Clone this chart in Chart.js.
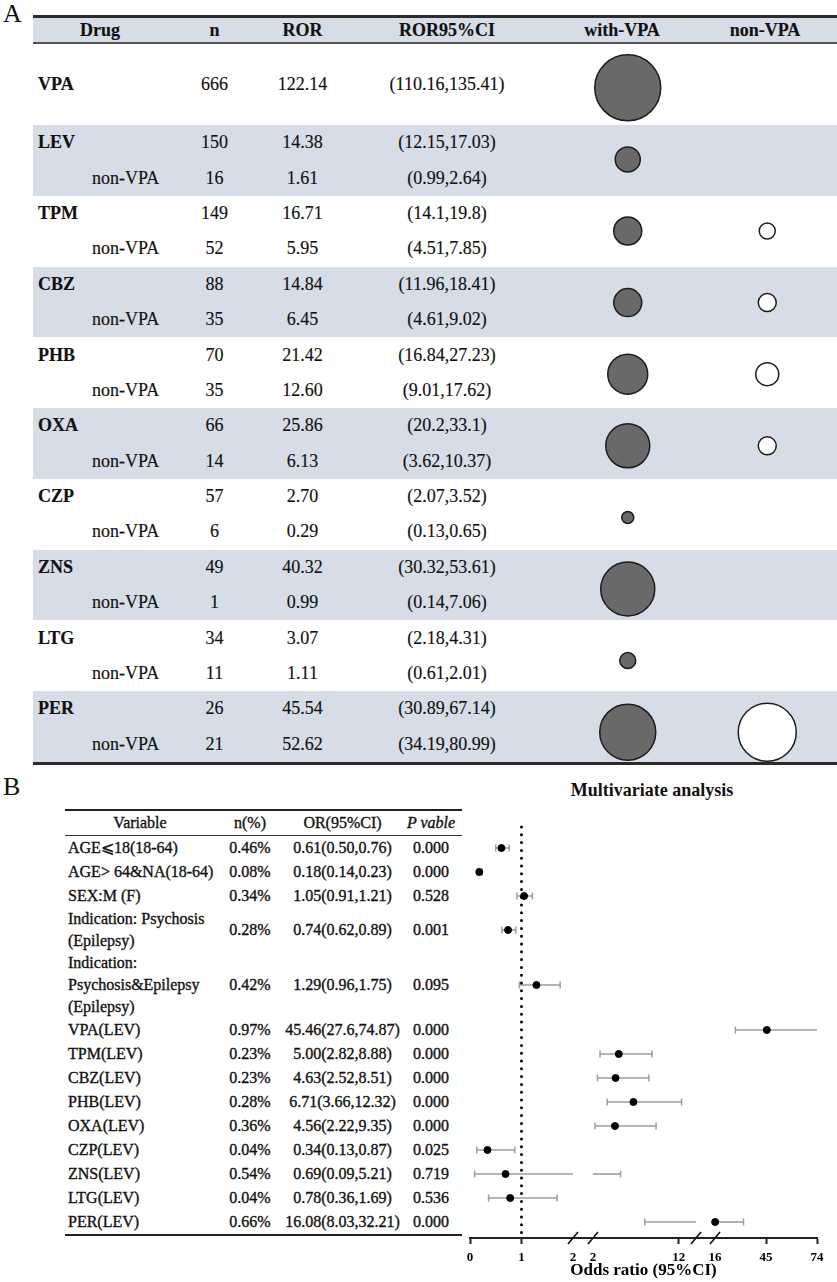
<!DOCTYPE html>
<html>
<head>
<meta charset="utf-8">
<title>ROR of antiseizure drugs and multivariate analysis</title>
<script src="https://cdn.jsdelivr.net/npm/chart.js@4.4.1/dist/chart.umd.min.js"></script>
<style>
  body { margin: 0; background: #fff; }
  #page { position: relative; width: 837px; height: 1282px; overflow: hidden;
          font-family: "Liberation Serif", "Times New Roman", serif; color: #111; }
  .panel { position: absolute; left: 3px; font-size: 26px; line-height: 26px; }
  #tabA { position: absolute; left: 33px; top: 15px; width: 804px; }
  .rowA { display: grid; grid-template-columns: 134px 95px 81px 208px 142px 144px;
          align-items: center; font-size: 18px; -webkit-text-stroke: 0.15px #111; }
  .rowA > div { text-align: center; white-space: nowrap; }
  .rowA > .drug { text-align: left; padding-left: 5px; font-weight: bold; }
  .rowA > .sub { text-align: left; padding-left: 59px; }
  .head { height: 24px; background: #d6dde6; font-weight: bold; }
  .shade { background: #d6dde6; }
  .thick { border-top: 3px solid #2b2b2b; }
  .mid { border-top: 2px solid #555; }
  #bubbleBox { position: absolute; left: 558px; top: 52px; width: 279px; height: 716px; }
  #tabB { position: absolute; left: 65px; top: 809px; width: 397px; font-size: 16px;
          -webkit-text-stroke: 0.35px #111; }
  .rowB { display: grid; grid-template-columns: 150px 70px 115px 62px; align-items: center; }
  .rowB > div { text-align: center; white-space: nowrap; }
  .rowB > .var { text-align: left; padding-left: 3px; line-height: 22px; }
  .ruleB2 { border-top: 2px solid #222; }
  .ruleB1 { border-top: 1px solid #333; }
  #forestTitle { position: absolute; left: 552px; width: 200px; top: 780px; text-align: center;
                 font-size: 18px; font-weight: bold; }
  #forestBox { position: absolute; left: 460px; top: 800px; width: 377px; height: 482px; }
</style>
</head>
<body>
<div id="page">
  <div class="panel" style="top:1px">A</div>
  <div id="tabA"></div>
  <div id="bubbleBox"><canvas id="bubbleChart"></canvas></div>

  <div class="panel" style="top:774px">B</div>
  <div id="tabB"></div>
  <div id="forestTitle">Multivariate analysis</div>
  <div id="forestBox"><canvas id="forestChart"></canvas></div>
</div>
<script>
// ---------- panel A data ----------
const colHeadA = ['Drug', 'n', 'ROR', 'ROR95%CI', 'with-VPA', 'non-VPA'];
const drugs = ['VPA', 'LEV', 'TPM', 'CBZ', 'PHB', 'OXA', 'CZP', 'ZNS', 'LTG', 'PER'];
const nWith = [666, 150, 149, 88, 70, 66, 57, 49, 34, 26];
const rorWith = [122.14, 14.38, 16.71, 14.84, 21.42, 25.86, 2.70, 40.32, 3.07, 45.54];
const ciWithLo = [110.16, 12.15, 14.1, 11.96, 16.84, 20.2, 2.07, 30.32, 2.18, 30.89];
const ciWithHi = [135.41, 17.03, 19.8, 18.41, 27.23, 33.1, 3.52, 53.61, 4.31, 67.14];
const nNon = [null, 16, 52, 35, 35, 14, 6, 1, 11, 21];
const rorNon = [null, 1.61, 5.95, 6.45, 12.60, 6.13, 0.29, 0.99, 1.11, 52.62];
const ciNonLo = [null, 0.99, 4.51, 4.61, 9.01, 3.62, 0.13, 0.14, 0.61, 34.19];
const ciNonHi = [null, 2.64, 7.85, 9.02, 17.62, 10.37, 0.65, 7.06, 2.01, 80.99];
// bubble sizes (0 = no bubble)
const withBubble = [33, 12.5, 14, 14, 20, 22, 6, 27, 8, 28];
const nonBubble = [0, 0, 8, 9, 11.5, 9, 0, 0, 0, 29];

// ---------- panel B data ----------
const colHeadB = ['Variable', 'n(%)', 'OR(95%CI)', '<i>P vable</i>'];
const variables = ['AGE⩽18(18-64)', 'AGE&gt; 64&amp;NA(18-64)', 'SEX:M (F)',
  'Indication: Psychosis|(Epilepsy)', 'Indication:|Psychosis&amp;Epilepsy|(Epilepsy)',
  'VPA(LEV)', 'TPM(LEV)', 'CBZ(LEV)', 'PHB(LEV)', 'OXA(LEV)', 'CZP(LEV)', 'ZNS(LEV)', 'LTG(LEV)', 'PER(LEV)'];
const nPct = [0.46, 0.08, 0.34, 0.28, 0.42, 0.97, 0.23, 0.23, 0.28, 0.36, 0.04, 0.54, 0.04, 0.66];
const orEst = ['0.61', '0.18', '1.05', '0.74', '1.29', '45.46', '5.00', '4.63', '6.71', '4.56', '0.34', '0.69', '0.78', '16.08'];
const orLow = ['0.50', '0.14', '0.91', '0.62', '0.96', '27.6', '2.82', '2.52', '3.66', '2.22', '0.13', '0.09', '0.36', '8.03'];
const orHigh = ['0.76', '0.23', '1.21', '0.89', '1.75', '74.87', '8.88', '8.51', '12.32', '9.35', '0.87', '5.21', '1.69', '32.21'];
const pValue = ['0.000', '0.000', '0.528', '0.001', '0.095', '0.000', '0.000', '0.000', '0.000', '0.000', '0.025', '0.719', '0.536', '0.000'];

// broken odds-ratio axis: three pieces
const axisParts = [
  { lo: 0, hi: 2, from: 0, to: 103 },
  { lo: 2, hi: 14, from: 123, to: 226 },
  { lo: 16, hi: 74, from: 245, to: 347 }
];
const tickVals = [0, 1, 2, 2, 12, 16, 45, 74];
const tickPart = [0, 0, 0, 1, 1, 2, 2, 2];
const tickMark = [true, true, false, false, true, false, true, true];

function partOf(v) { return v <= 2 ? 0 : (v <= 14 ? 1 : 2); }
function toAxis(v, k) {
  const s = axisParts[k === undefined ? partOf(v) : k];
  return s.from + (v - s.lo) * (s.to - s.from) / (s.hi - s.lo);
}
// split a CI into the axis pieces it crosses
function ciPieces(lo, hi) {
  const out = [];
  axisParts.forEach((s, k) => {
    const a = Math.max(lo, k === 0 ? -Infinity : s.lo);
    const b = Math.min(hi, k === axisParts.length - 1 ? Infinity : s.hi);
    if (a < b) out.push({ a: a, b: b, k: k, capA: a === lo, capB: b === hi });
  });
  return out;
}

// ---------- panel A table ----------
let html = '<div class="thick"></div>';
html += '<div class="rowA head">' + colHeadA.map(t => '<div>' + t + '</div>').join('') + '</div>';
html += '<div class="mid"></div>';
drugs.forEach((d, i) => {
  const withRow = '<div class="drug">' + d + '</div><div>' + nWith[i] + '</div><div>' + rorWith[i].toFixed(2) +
    '</div><div>(' + ciWithLo[i] + ',' + ciWithHi[i] + ')</div><div></div><div></div>';
  if (nNon[i] === null) {
    html += '<div class="rowA" style="height:81px">' + withRow + '</div>';
  } else {
    const nonRow = '<div class="sub">non-VPA</div><div>' + nNon[i] + '</div><div>' + rorNon[i].toFixed(2) +
      '</div><div>(' + ciNonLo[i] + ',' + ciNonHi[i] + ')</div><div></div><div></div>';
    html += '<div class="' + (i % 2 ? 'shade' : '') + '">' +
      '<div class="rowA" style="height:35.4px">' + withRow + '</div>' +
      '<div class="rowA" style="height:35.4px">' + nonRow + '</div></div>';
  }
});
html += '<div class="thick"></div>';
document.getElementById('tabA').innerHTML = html;

new Chart(document.getElementById('bubbleChart'), {
  type: 'bubble',
  data: {
    datasets: [{
      label: 'with-VPA',
      data: drugs.map((d, i) => ({ x: 0, y: i, r: withBubble[i] })),
      backgroundColor: '#696969',
      borderColor: '#1c1c1c',
      borderWidth: 1.5,
      clip: false
    }, {
      label: 'non-VPA',
      data: drugs.map((d, i) => ({ x: 1, y: i, r: nonBubble[i] })).filter(p => p.r > 0),
      backgroundColor: '#ffffff',
      borderColor: '#1c1c1c',
      borderWidth: 1.5,
      clip: false
    }]
  },
  options: {
    responsive: true,
    maintainAspectRatio: false,
    animation: false,
    layout: { autoPadding: false, padding: 0 },
    plugins: { legend: { display: false }, tooltip: { enabled: false } },
    scales: {
      x: { type: 'linear', min: -0.5, max: 1.5, display: false },
      y: { type: 'linear', min: -0.5, max: 9.5, reverse: true, display: false }
    }
  }
});

// ---------- panel B table ----------
const rowLines = variables.map(v => v.split('|').length);
const rowH = rowLines.map(n => n === 1 ? 24 : n * 22);
const rowMid = [];
let acc = 0;
rowH.forEach(h => { rowMid.push(acc + h / 2); acc += h; });

let hb = '<div class="ruleB2"></div>';
hb += '<div class="rowB" style="height:24px">' + colHeadB.map(t => '<div>' + t + '</div>').join('') + '</div>';
hb += '<div class="ruleB1"></div>';
variables.forEach((v, i) => {
  hb += '<div class="rowB" style="height:' + rowH[i] + 'px"><div class="var">' + v.split('|').join('<br>') +
    '</div><div>' + nPct[i].toFixed(2) + '%</div><div>' + orEst[i] + '(' + orLow[i] + ',' + orHigh[i] +
    ')</div><div>' + pValue[i] + '</div></div>';
});
hb += '<div class="ruleB2"></div>';
document.getElementById('tabB').innerHTML = hb;

// y units = px of the table body; canvas starts 36px above the body, axis sits 402px below it
const yMin = -36, yMax = 402, refTop = -9;

const forestSets = [];
forestSets.push({
  label: 'OR',
  data: orEst.map((v, i) => ({ x: toAxis(+v), y: rowMid[i] })),
  pointRadius: 3.5,
  pointBackgroundColor: '#000',
  pointBorderColor: '#000',
  showLine: false
});
forestSets.push({
  label: 'OR = 1',
  data: [{ x: toAxis(1), y: refTop }, { x: toAxis(1), y: yMax }],
  showLine: true,
  borderColor: '#000',
  borderWidth: 3,
  borderDash: [0, 7.8],
  borderCapStyle: 'round',
  pointRadius: 0
});
orLow.forEach((lo, i) => {
  ciPieces(+lo, +orHigh[i]).forEach(p => {
    forestSets.push({
      label: 'CI',
      data: [{ x: toAxis(p.a, p.k), y: rowMid[i] }, { x: toAxis(p.b, p.k), y: rowMid[i] }],
      showLine: true,
      borderColor: '#9d9d9d',
      borderWidth: 1.6,
      pointStyle: 'line',
      rotation: 90,
      pointRadius: [p.capA ? 3.5 : 0, p.capB ? 3.5 : 0],
      pointBorderColor: '#9d9d9d',
      pointBorderWidth: 1.5
    });
  });
});

const breakMarks = {
  id: 'breakMarks',
  afterDraw(chart) {
    const ctx = chart.ctx;
    const xs = chart.scales.x;
    const y = chart.chartArea.bottom;
    ctx.save();
    ctx.strokeStyle = '#111';
    ctx.lineWidth = 1.6;
    axisParts.forEach((s, k) => {
      const marks = [];
      if (k > 0) marks.push(s.from);
      if (k < axisParts.length - 1) marks.push(s.to);
      marks.forEach(d => {
        const x = xs.getPixelForValue(d);
        ctx.beginPath();
        ctx.moveTo(x - 5, y + 6);
        ctx.lineTo(x + 5, y - 6);
        ctx.stroke();
      });
    });
    ctx.restore();
  }
};

new Chart(document.getElementById('forestChart'), {
  type: 'scatter',
  data: { datasets: forestSets },
  options: {
    responsive: true,
    maintainAspectRatio: false,
    animation: false,
    layout: { autoPadding: false, padding: { left: 10, right: 20, top: 0, bottom: 0 } },
    plugins: { legend: { display: false }, tooltip: { enabled: false } },
    scales: {
      x: {
        type: 'linear', min: 0, max: 347,
        afterBuildTicks: s => { s.ticks = tickVals.map((v, i) => ({ value: toAxis(v, tickPart[i]) })); },
        afterFit: s => { s.height = 44; },
        ticks: {
          autoSkip: false, maxRotation: 0, padding: 6, color: '#000',
          font: { family: 'Liberation Serif', size: 13, weight: 'bold' },
          callback: (val, idx) => String(tickVals[idx])
        },
        grid: {
          drawOnChartArea: false, tickLength: 6, tickWidth: 2,
          tickColor: c => tickMark[c.index] ? '#222' : 'rgba(0,0,0,0)'
        },
        border: { color: '#222', width: 2 },
        title: {
          display: true, text: 'Odds ratio (95%CI)', color: '#000',
          font: { family: 'Liberation Serif', size: 17, weight: 'bold' },
          padding: { top: 0, bottom: 1 }
        }
      },
      y: { type: 'linear', min: yMin, max: yMax, reverse: true, display: false }
    }
  },
  plugins: [breakMarks]
});
</script>
</body>
</html>
